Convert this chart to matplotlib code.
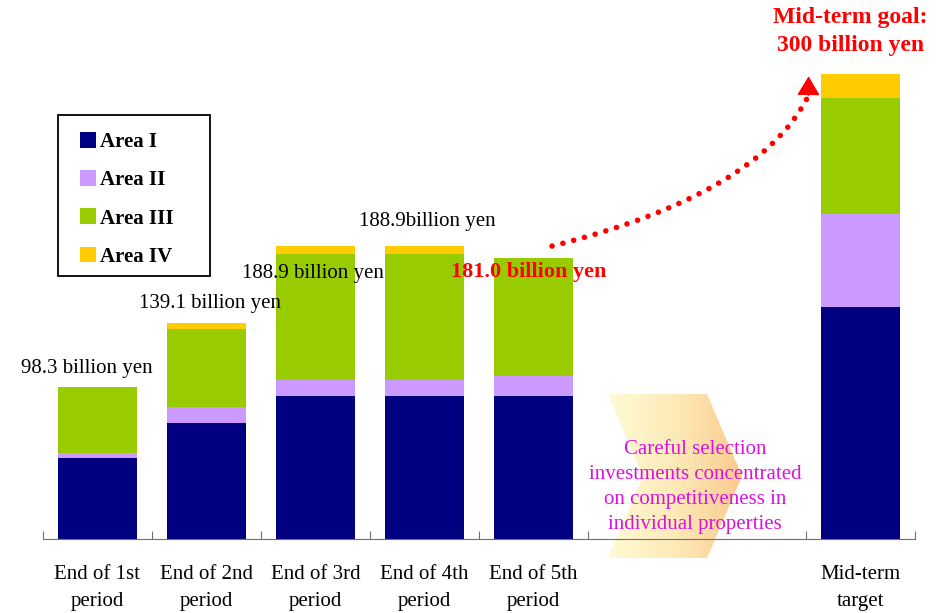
import numpy as np
import matplotlib
matplotlib.use('Agg')
import matplotlib.pyplot as plt
from matplotlib.colors import LinearSegmentedColormap
from matplotlib.patches import Polygon, PathPatch, Rectangle
from matplotlib.path import Path

plt.rcParams['font.family'] = ['Liberation Serif', 'DejaVu Serif']

# data (billion yen)
periods = ['End of 1st\nperiod', 'End of 2nd\nperiod', 'End of 3rd\nperiod',
           'End of 4th\nperiod', 'End of 5th\nperiod', 'Mid-term\ntarget']
x_pos = [0, 1, 2, 3, 4, 7]
areas = ['Area I', 'Area II', 'Area III', 'Area IV']
area1 = [52.3, 75.1, 92.2, 92.2, 92.5, 149.7]
area2 = [3.1, 10.1, 10.3, 10.3, 12.5, 60.0]
area3 = [42.9, 50.0, 81.2, 81.2, 76.0, 74.8]
area4 = [0.0, 3.9, 5.2, 5.2, 0.0, 15.5]
colors = ['#000080', '#cc99ff', '#99cc00', '#ffcc00']
bar_labels = ['98.3 billion yen', '139.1 billion yen', '188.9 billion yen',
              '188.9billion yen']
last_label = '181.0 billion yen'
goal_label = 'Mid-term goal:\n300 billion yen'
note = 'Careful selection\ninvestments concentrated\non competitiveness in\nindividual properties'

fig = plt.figure(figsize=(9.47, 6.13), dpi=100)
ax = fig.add_axes([0, 0, 1, 1])
ax.set_xlim(-97.5 / 109, (947 - 97.5) / 109)
ax.set_ylim(-74 / 1.55, 539 / 1.55)

# chevron with gradient behind the text
chev = Polygon([(4.683, 93.5), (5.592, 93.5), (5.913, 40.6), (5.592, -12.3),
                (4.683, -12.3), (5.005, 40.6)], closed=True,
               facecolor='none', edgecolor='none', transform=ax.transData)
ax.add_patch(chev)
cmap = LinearSegmentedColormap.from_list('chev', ['#fffbd4', '#fdeab8', '#fbca8e'])
grad = np.linspace(0, 1, 256).reshape(1, -1)
im = ax.imshow(grad, cmap=cmap, extent=(4.683, 5.913, -12.3, 93.5),
               aspect='auto', zorder=1, interpolation='bilinear')
im.set_clip_path(chev)

# stacked bars
bottom = np.zeros(len(x_pos))
for name, vals, c in zip(areas, [area1, area2, area3, area4], colors):
    ax.bar(x_pos, vals, width=0.725, bottom=bottom, color=c, label=name,
           zorder=2)
    bottom += np.array(vals)

# total labels
offsets = [(-0.1, 11.5), (0.03, 13), (-0.02, -17.5), (0.03, 16), ]
for i, (lab, (dx, dy)) in enumerate(zip(bar_labels, offsets)):
    ax.text(x_pos[i] + dx, bottom[i] + dy, lab, ha='center', va='center',
            fontsize=15, zorder=5)
ax.text(x_pos[4] - 0.04, bottom[4] - 9, last_label, ha='center', va='center',
        fontsize=16, fontweight='bold', color='red', zorder=5)
ax.text(x_pos[5] - 0.09, bottom[5] + 27.5, goal_label, ha='center',
        va='center', fontsize=17, fontweight='bold', color='red',
        linespacing=1.45, zorder=5)

# dotted growth curve + arrow head
curve = Path([(4.17, 189.0), (6.05, 222.1), (6.512, 284.5)],
             [Path.MOVETO, Path.CURVE3, Path.CURVE3])
ax.add_patch(PathPatch(curve, fill=False, edgecolor='red', lw=4,
                       linestyle=(0, (0.01, 2.0)), capstyle='round',
                       zorder=4))
ax.annotate('', xy=(6.524, 298.5), xytext=(6.522, 286),
            arrowprops=dict(arrowstyle='-|>,head_length=0.6,head_width=0.36',
                            color='red', lw=1, shrinkA=0, shrinkB=0,
                            mutation_scale=20),
            zorder=4)

ax.text(5.48, 33.6, note, ha='center', va='center', fontsize=15,
        color='#dd11dd', linespacing=1.42, zorder=5)

# axis
for s in ['top', 'left', 'right']:
    ax.spines[s].set_visible(False)
ax.spines['bottom'].set_position(('data', 0))
ax.spines['bottom'].set_bounds(-0.5, 7.5)
ax.spines['bottom'].set_color('#707070')
ax.spines['bottom'].set_zorder(3)
ax.set_yticks([])
ax.set_xticks([-0.5, 0.5, 1.5, 2.5, 3.5, 4.5, 6.5, 7.5], labels=[''] * 8)
ax.set_xticks(x_pos, labels=periods, minor=True, linespacing=1.52)
ax.tick_params(axis='x', which='major', direction='in', length=6,
               color='#707070')
ax.tick_params(axis='x', which='minor', length=0, pad=19, labelsize=15)

# legend with a hand-placed square frame
leg = ax.legend(loc='upper left', bbox_to_anchor=(80 / 947, 1 - 132 / 613),
                bbox_transform=fig.transFigure, borderaxespad=0,
                prop={'size': 15, 'weight': 'bold'}, handlelength=0.78,
                handleheight=0.78, handletextpad=0.2, labelspacing=0.87,
                borderpad=0, frameon=False)
leg.set_zorder(6)
fig.add_artist(Rectangle((58 / 947, 1 - 276 / 613), 152 / 947, 161 / 613,
                         transform=fig.transFigure, fill=False,
                         edgecolor='black', lw=1.3, zorder=6))

fig.savefig('out.png', dpi=100)
